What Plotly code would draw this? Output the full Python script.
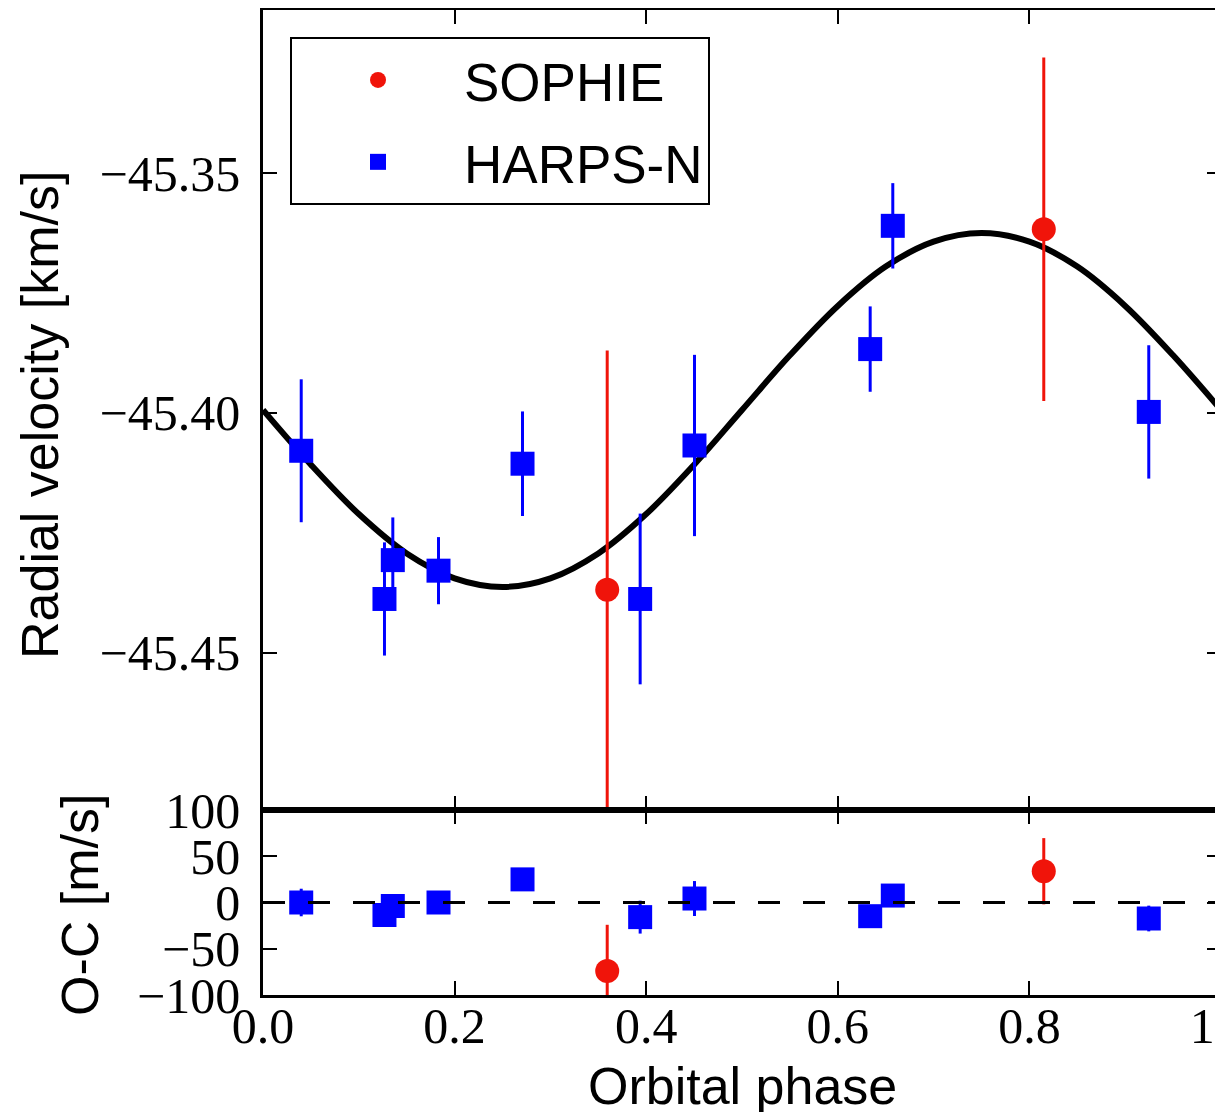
import plotly.graph_objects as go

# ---------------- data ----------------
# SOPHIE
sophie_phase = [0.3593, 0.8150]
sophie_rv = [-45.4369, -45.3617]          # km/s
sophie_err = [0.0499, 0.0358]             # km/s
sophie_oc = [-74.0, 33.8]                 # m/s
sophie_oc_err = [49.9, 35.8]              # m/s

# HARPS-N
harps_phase = [0.0399, 0.1268, 0.1355, 0.1832, 0.2709, 0.3937, 0.4504, 0.6338, 0.6574, 0.9246]
harps_rv = [-45.4079, -45.4388, -45.4307, -45.4329, -45.4106, -45.4388, -45.4068, -45.3867, -45.3610, -45.3998]
harps_err = [0.0149, 0.0118, 0.0089, 0.0070, 0.0109, 0.0178, 0.0189, 0.0089, 0.0089, 0.0139]
harps_oc = [0.0, -13.5, -3.8, 0.0, 25.0, -15.8, 4.3, -14.8, 7.5, -17.3]
harps_oc_err = [14.9, 11.8, 8.9, 7.0, 10.9, 17.8, 18.9, 8.9, 8.9, 13.9]

# Orbital model
model_phase = [0.00, 0.05, 0.10, 0.15, 0.20, 0.25, 0.30, 0.35, 0.40, 0.45, 0.50,
               0.55, 0.60, 0.65, 0.70, 0.75, 0.80, 0.85, 0.90, 0.95, 1.00]
model_rv = [-45.3994, -45.4108, -45.4211, -45.4293, -45.4345, -45.4363, -45.4345, -45.4293,
            -45.4211, -45.4108, -45.3994, -45.3880, -45.3777, -45.3695, -45.3643, -45.3625,
            -45.3643, -45.3695, -45.3777, -45.3880, -45.3994]

# ticks
x_ticks = [0.0, 0.2, 0.4, 0.6, 0.8, 1.0]
rv_ticks = [-45.45, -45.40, -45.35]
oc_ticks = [-100, -50, 0, 50, 100]

# ---------------- styling ----------------
RED = "rgb(240,20,10)"
BLUE = "rgb(0,0,255)"
SERIF = "Liberation Serif"
SANS = "Liberation Sans"

fig = go.Figure()

fig.add_trace(go.Scatter(
    x=model_phase, y=model_rv, mode="lines",
    line=dict(color="black", width=6, shape="spline", smoothing=1.0),
    showlegend=False, xaxis="x", yaxis="y", hoverinfo="skip"))

fig.add_trace(go.Scatter(
    x=sophie_phase, y=sophie_rv, mode="markers", name="SOPHIE",
    legendgroup="sophie",
    marker=dict(symbol="circle", size=24, color=RED, line=dict(width=0)),
    error_y=dict(type="data", array=sophie_err, color=RED, thickness=3, width=0),
    xaxis="x", yaxis="y"))

fig.add_trace(go.Scatter(
    x=harps_phase, y=harps_rv, mode="markers", name="HARPS-N",
    legendgroup="harps",
    marker=dict(symbol="square", size=24, color=BLUE, line=dict(width=0)),
    error_y=dict(type="data", array=harps_err, color=BLUE, thickness=3, width=0),
    xaxis="x", yaxis="y"))

fig.add_trace(go.Scatter(
    x=sophie_phase, y=sophie_oc, mode="markers", name="SOPHIE",
    legendgroup="sophie", showlegend=False,
    marker=dict(symbol="circle", size=24, color=RED, line=dict(width=0)),
    error_y=dict(type="data", array=sophie_oc_err, color=RED, thickness=3, width=0),
    xaxis="x2", yaxis="y2"))

fig.add_trace(go.Scatter(
    x=harps_phase, y=harps_oc, mode="markers", name="HARPS-N",
    legendgroup="harps", showlegend=False,
    marker=dict(symbol="square", size=24, color=BLUE, line=dict(width=0)),
    error_y=dict(type="data", array=harps_oc_err, color=BLUE, thickness=3, width=0),
    xaxis="x2", yaxis="y2"))

split = 185 / 985

axis_common = dict(
    showgrid=False, zeroline=False, ticks="inside", ticklen=14, tickwidth=2,
    tickcolor="black", showline=True, linecolor="black", linewidth=2.5,
    mirror="allticks", automargin=False,
    tickfont=dict(family=SERIF, size=50, color="black"),
)

fig.update_layout(
    width=1215, height=1104,
    margin=dict(l=255, r=2, t=2, b=117, autoexpand=False),
    paper_bgcolor="white", plot_bgcolor="white",
    xaxis=dict(domain=[0, 1], range=[0, 1], anchor="y", tickvals=x_ticks,
               showticklabels=False, **axis_common),
    yaxis=dict(domain=[split, 1], range=[-45.4828, -45.3160], anchor="x",
               tickvals=rv_ticks, tickformat=".2f", ticklabelstandoff=10, **axis_common),
    xaxis2=dict(domain=[0, 1], range=[0, 1], anchor="y2", tickvals=x_ticks,
                tickformat=".1f", ticklabeloverflow="allow", ticklabelstandoff=-15,
                **axis_common),
    yaxis2=dict(domain=[0, split], range=[-100, 100], anchor="x2",
                tickvals=oc_ticks, ticklabelstandoff=10, **axis_common),
    legend=dict(x=0.0282, y=0.9726, xanchor="left", yanchor="top",
                bgcolor="white", bordercolor="black", borderwidth=2,
                font=dict(family=SANS, size=53, color="black"),
                itemwidth=162, traceorder="grouped", tracegroupgap=10),
    showlegend=True,
)

fig.add_shape(type="line", xref="x2 domain", yref="y2", x0=0, x1=1, y0=0, y1=0,
              line=dict(color="black", width=3, dash="22px,23px"), layer="above")

title_font = dict(family=SANS, size=52, color="black")
fig.add_annotation(text="Radial velocity [km/s]", xref="paper", yref="paper",
                   x=-0.2328, y=0.5888, textangle=-90, showarrow=False,
                   xanchor="center", yanchor="middle", font=title_font)
fig.add_annotation(text="O-C [m/s]", xref="paper", yref="paper",
                   x=-0.1910, y=0.0914, textangle=-90, showarrow=False,
                   xanchor="center", yanchor="middle", font=title_font)
fig.add_annotation(text="Orbital phase", xref="paper", yref="paper",
                   x=0.5, y=-0.0924, showarrow=False,
                   xanchor="center", yanchor="middle", font=title_font)

fig.write_html("out.html")
